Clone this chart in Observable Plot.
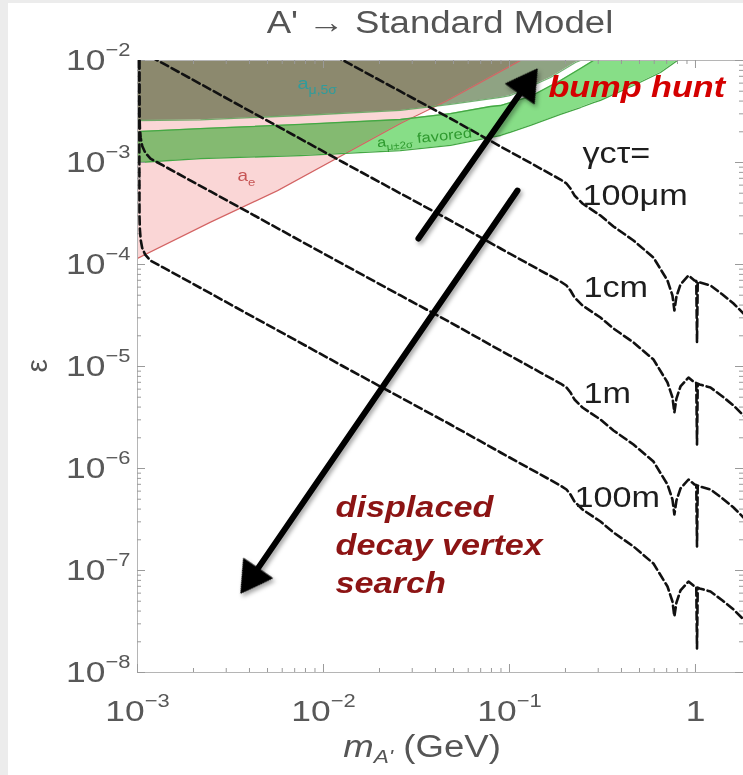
<!DOCTYPE html>
<html>
<head>
<meta charset="utf-8">
<script src="https://cdn.jsdelivr.net/npm/d3@7"></script>
<script src="https://cdn.jsdelivr.net/npm/@observablehq/plot@0.6"></script>
<style>
  html, body { margin: 0; padding: 0; width: 743px; height: 775px; overflow: hidden; background: #ececec;
               font-family: "Liberation Sans", Arial, sans-serif; }
  #sheet { position: absolute; left: 8px; top: 3px; width: 735px; height: 772px; background: #fff; overflow: hidden; }
  #title { position: absolute; left: 129px; top: 0; width: 606px; height: 40px; line-height: 40px;
           text-align: center; font-size: 31px; color: #555; transform: scaleX(1.18); white-space: nowrap; }
  #chart { position: absolute; left: 0; top: 47px; background: #fff; }
  #chart svg { display: block; overflow: visible; background: #fff; }
  #xlabel { position: absolute; left: 214px; top: 724px; width: 400px; height: 40px; line-height: 40px;
            text-align: center; font-size: 31px; color: #555; transform: scaleX(1.18); white-space: nowrap; }
  #xlabel sub { font-size: 0.62em; vertical-align: -0.3em; line-height: 0; }
  #chart g[aria-label="link"], #chart g[aria-label="dot"] { filter: drop-shadow(2px 3px 2px rgba(0,0,0,0.35)); }
  #chart g[aria-label="area"] { mix-blend-mode: multiply; }
</style>
</head>
<body>
<div id="sheet">
  <div id="title">A' → Standard Model</div>
  <div id="chart"></div>
  <div id="xlabel"><i>m</i><sub><i>A'</i></sub> (GeV)</div>
</div>
<script>
// ---- axis extents and tick labels ----
const massDomain = [1e-3, 1.812];
const epsDomain = [1e-8, 1e-2];
const topEps = epsDomain[1];
const xMajorTicks = [1e-3, 1e-2, 1e-1, 1];
const xTickLabels = ["10^{−3}", "10^{−2}", "10^{−1}", "1"];
const yMajorTicks = [1e-8, 1e-7, 1e-6, 1e-5, 1e-4, 1e-3, 1e-2];
const yTickLabels = ["10^{−8}", "10^{−7}", "10^{−6}", "10^{−5}", "10^{−4}", "10^{−3}", "10^{−2}"];

// ---- a_e exclusion (lower boundary, region extends to the top) ----
const aeMass = [0.001, 0.00247, 0.00566, 0.0259, 0.0464, 0.1146];
const aeEps  = [1.15e-4, 2.6e-4, 5.3e-4, 2.41e-3, 4.05e-3, 1e-2];

// ---- a_mu 5 sigma exclusion (lower boundary) ----
const amu5Mass = [0.001, 0.00218, 0.00752, 0.0259, 0.0482, 0.0895, 0.1013, 0.1661, 0.2263, 0.2408];
const amu5Eps  = [2.58e-3, 2.62e-3, 2.89e-3, 3.24e-3, 3.71e-3, 4.34e-3, 4.54e-3, 6.81e-3, 9.56e-3, 1e-2];

// ---- a_mu +-2 sigma favoured band ----
const favMass  = [0.001, 0.00218, 0.00752, 0.0259, 0.0482, 0.079, 0.0895, 0.1297, 0.188, 0.2408, 0.2829, 0.3084, 0.4642, 0.6482, 0.800];
const favUpper = [2.01e-3, 2.15e-3, 2.36e-3, 2.64e-3, 3.02e-3, 3.54e-3, 3.62e-3, 4.44e-3, 6.37e-3, 8.35e-3, 1e-2, 1e-2, 1e-2, 1e-2, 1e-2];
const favLower = [1.0e-3, 1.09e-3, 1.17e-3, 1.31e-3, 1.47e-3, 1.76e-3, 1.84e-3, 2.31e-3, 2.96e-3, 3.46e-3, 3.87e-3, 4.06e-3, 5.69e-3, 7.63e-3, 1e-2];

// ---- constant decay-length contours (gamma c tau) ----
const shapeMass = [0.01281, 0.02594, 0.04817, 0.0895, 0.1468, 0.188, 0.2025, 0.2128, 0.2236, 0.2469,
                   0.3084, 0.3623, 0.4642, 0.5943, 0.7071, 0.752, 0.77, 0.79, 0.8307, 0.9172,
                   0.9876, 1.01, 1.019, 1.028, 1.0507, 1.204, 1.397, 1.601, 1.812, 2.0];
const lowMass = [1.0222e-3, 1.0235e-3, 1.025e-3, 1.03e-3, 1.04e-3, 1.06e-3, 1.1e-3, 1.175e-3, 1.38e-3, 2.47e-3];

const eps100um = [1.28e-2,
  1.0e-2, 4.97e-3, 2.70e-3, 1.435e-3, 8.73e-4, 6.81e-4, 6.22e-4, 5.56e-4, 4.75e-4, 3.96e-4,
  3.02e-4, 2.36e-4, 1.72e-4, 1.17e-4, 6.97e-5, 4.97e-5, 3.54e-5, 4.85e-5, 6.37e-5, 7.8e-5,
  6.97e-5, 6.9e-5, 1.72e-5, 6.8e-5, 6.67e-5, 6.23e-5, 5.08e-5, 4.15e-5, 3.31e-5, 2.85e-5];
const mass100um = [0.0100, ...shapeMass];

const eps1cm = [1.09e-2, 9.3e-3, 5.2e-3,
  1.0e-3, 4.97e-4, 2.70e-4, 1.435e-4, 8.73e-5, 6.81e-5, 6.22e-5, 5.56e-5, 4.75e-5, 3.96e-5,
  3.02e-5, 2.36e-5, 1.72e-5, 1.17e-5, 6.97e-6, 4.97e-6, 3.54e-6, 4.85e-6, 6.37e-6, 7.8e-6,
  6.97e-6, 6.9e-6, 1.72e-6, 6.8e-6, 6.67e-6, 6.23e-6, 5.08e-6, 4.15e-6, 3.31e-6, 2.85e-6];
const mass1cm = [1.175e-3, 1.38e-3, 2.47e-3, ...shapeMass];

const eps1m = [1e-2, 6.0e-3, 3.0e-3, 2.2e-3, 1.75e-3, 1.45e-3, 1.25e-3, 1.09e-3, 9.3e-4, 5.2e-4,
  1.0e-4, 4.97e-5, 2.70e-5, 1.435e-5, 8.73e-6, 6.81e-6, 6.22e-6, 5.56e-6, 4.75e-6, 3.96e-6,
  3.02e-6, 2.36e-6, 1.72e-6, 1.17e-6, 6.97e-7, 4.97e-7, 3.54e-7, 4.85e-7, 6.37e-7, 7.8e-7,
  6.97e-7, 6.9e-7, 1.72e-7, 6.8e-7, 6.67e-7, 6.23e-7, 5.08e-7, 4.15e-7, 3.31e-7, 2.85e-7];
const mass1m = [...lowMass, ...shapeMass];

const eps100m = [1e-2, 1e-3, 3.0e-4, 2.2e-4, 1.75e-4, 1.45e-4, 1.25e-4, 1.09e-4, 9.3e-5, 5.2e-5,
  1.0e-5, 4.97e-6, 2.70e-6, 1.435e-6, 8.73e-7, 6.81e-7, 6.22e-7, 5.56e-7, 4.75e-7, 3.96e-7,
  3.02e-7, 2.36e-7, 1.72e-7, 1.17e-7, 6.97e-8, 4.97e-8, 3.54e-8, 4.85e-8, 6.37e-8, 7.8e-8,
  6.97e-8, 6.9e-8, 1.72e-8, 6.8e-8, 6.67e-8, 6.23e-8, 5.08e-8, 4.15e-8, 3.31e-8, 2.85e-8];
const mass100m = [...lowMass, ...shapeMass];

// ---- search-strategy arrows: tail and head centre (mass, eps), head direction ----
const arrowTailMass = [0.0324, 0.1104];
const arrowTailEps  = [1.80e-4, 5.31e-4];
const arrowHeadMass = [0.1222, 4.14e-3];
const arrowHeadEps  = [5.69e-3, 8.71e-8];
const arrowAngle    = [35, 214.5];

// ---- text annotations ----
const lifetimeLabels = ["γcτ=", "100μm", "1cm", "1m", "100m"];
const lifetimeMass   = [0.2469, 0.2469, 0.2499, 0.2499, 0.2235];
const lifetimeEps    = [9.78e-4, 3.79e-4, 4.75e-5, 4.34e-6, 4.15e-7];

// ---- build tables ----
const zip = (ms, es) => ms.map((m, i) => ({m, eps: es[i]}));
const ae = zip(aeMass, aeEps);
const amu5 = zip(amu5Mass, amu5Eps);
const fav = favMass.map((m, i) => ({m, lo: favLower[i], hi: favUpper[i]}));
const favUpperEdge = fav.slice(0, fav.findIndex(d => d.hi >= topEps) + 1);
const contours = [
  zip(mass100um, eps100um), zip(mass1cm, eps1cm), zip(mass1m, eps1m), zip(mass100m, eps100m)
];
const arrows = arrowTailMass.map((m, i) => ({
  m1: m, e1: arrowTailEps[i], m2: arrowHeadMass[i], e2: arrowHeadEps[i], angle: arrowAngle[i]
}));
const lifetimeText = lifetimeLabels.map((t, i) => ({t, m: lifetimeMass[i], eps: lifetimeEps[i]}));

const xLabelOf = new Map(xMajorTicks.map((d, i) => [d, xTickLabels[i]]));
const yLabelOf = new Map(yMajorTicks.map((d, i) => [d, yTickLabels[i]]));
const xMinor = d3.scaleLog().domain(massDomain).ticks().filter(d => !xMajorTicks.some(t => Math.abs(d / t - 1) < 1e-9));
const yMinor = d3.scaleLog().domain(epsDomain).ticks().filter(d => !yMajorTicks.some(t => Math.abs(d / t - 1) < 1e-9));

const W = 606, H = 612;
const tickColor = "#9a9a9a";
const dashed = {stroke: "#111", strokeWidth: 2.6, strokeDasharray: "8,4", clip: true};

const chart = Plot.plot({
  width: 735, height: 677,
  marginLeft: 129, marginRight: 0, marginTop: 10, marginBottom: 55,
  x: {type: "log", domain: massDomain},
  y: {type: "log", domain: epsDomain},
  style: {fontFamily: '"Liberation Sans", Arial, sans-serif', background: "#fff", overflow: "visible"},
  marks: [
    // shaded regions (multiplied together where they overlap)
    Plot.areaY(ae, {x: "m", y1: "eps", y2: () => topEps, fill: "#fad6d6", clip: true}),
    Plot.areaY(amu5, {x: "m", y1: "eps", y2: () => topEps, fill: "#8fa383", clip: true}),
    Plot.areaY(fav, {x: "m", y1: "lo", y2: "hi", fill: "#87de87", clip: true}),
    Plot.line(ae, {x: "m", y: "eps", stroke: "#d46464", strokeWidth: 1.3, clip: true}),
    Plot.line(amu5, {x: "m", y: "eps", stroke: "#4f9f4f", strokeWidth: 1.3, strokeOpacity: 0.8, clip: true}),
    Plot.line(favUpperEdge, {x: "m", y: "hi", stroke: "#44a844", strokeWidth: 1.3, clip: true}),
    Plot.line(fav, {x: "m", y: "lo", stroke: "#44a844", strokeWidth: 1.3, clip: true}),

    // frame and ticks
    Plot.frame({stroke: "#b5b5b5", strokeWidth: 1}),
    Plot.tickX(xMajorTicks, {x: d => d, insetTop: H - 8, stroke: tickColor}),
    Plot.tickX(xMinor, {x: d => d, insetTop: H - 4, stroke: tickColor}),
    Plot.tickX(xMajorTicks, {x: d => d, insetBottom: H - 8, stroke: tickColor}),
    Plot.tickX(xMinor, {x: d => d, insetBottom: H - 4, stroke: tickColor}),
    Plot.tickY(yMajorTicks, {y: d => d, insetRight: W - 8, stroke: tickColor}),
    Plot.tickY(yMinor, {y: d => d, insetRight: W - 4, stroke: tickColor}),
    Plot.tickY(yMajorTicks, {y: d => d, insetLeft: W - 8, stroke: tickColor}),
    Plot.tickY(yMinor, {y: d => d, insetLeft: W - 4, stroke: tickColor}),
    Plot.axisX(xMajorTicks, {anchor: "bottom", tickSize: 0, tickPadding: 27, tickFormat: d => xLabelOf.get(d),
      fontSize: 30, fill: "#585858", label: null}),
    Plot.axisY(yMajorTicks, {anchor: "left", tickSize: 0, tickPadding: 7, tickFormat: d => yLabelOf.get(d),
      fontSize: 30, fill: "#585858", label: null}),
    Plot.text(["ε"], {text: d => d, frameAnchor: "left", dx: -100, dy: 6, rotate: -90, fontSize: 30, fill: "#555"}),

    // decay-length contours
    ...contours.map(c => Plot.line(c, {x: "m", y: "eps", ...dashed})),

    // arrows
    Plot.link(arrows, {x1: "m1", y1: "e1", x2: "m2", y2: "e2", stroke: "#000", strokeWidth: 6, strokeLinecap: "round"}),
    Plot.dot(arrows, {x: "m2", y: "e2", rotate: "angle", symbol: "triangle", r: 13, fill: "#000", stroke: "#000", strokeWidth: 1}),

    // region labels
    Plot.text([{t: "a_{μ,5σ}", m: 7.24e-3, eps: 5.28e-3}], {x: "m", y: "eps", text: "t", textAnchor: "start",
      lineAnchor: "bottom", fontSize: 17, fill: "#2f9c9c"}),
    Plot.text([{t: "a_{e}", m: 3.45e-3, eps: 6.56e-4}], {x: "m", y: "eps", text: "t", textAnchor: "start",
      lineAnchor: "bottom", fontSize: 16, fill: "#c65454"}),
    Plot.text([{t: "a_{μ±2σ} favored", m: 0.0195, eps: 1.41e-3}], {x: "m", y: "eps", text: "t", textAnchor: "start",
      lineAnchor: "bottom", fontSize: 14, fill: "#2f9a2f", rotate: -6}),

    // search labels
    Plot.text([{t: "bump hunt", m: 0.162, eps: 4.43e-3}], {x: "m", y: "eps", text: "t", textAnchor: "start",
      lineAnchor: "bottom", fontSize: 29, fontWeight: "bold", fontStyle: "italic", fill: "#d40000"}),
    Plot.text([{t: "displaced\ndecay vertex\nsearch", m: 0.01161, eps: 6.08e-8}], {x: "m", y: "eps", text: "t",
      textAnchor: "start", lineAnchor: "bottom", lineHeight: 1.31, fontSize: 29, fontWeight: "bold",
      fontStyle: "italic", fill: "#8c1414"}),
    Plot.text(lifetimeText, {x: "m", y: "eps", text: "t", textAnchor: "start", lineAnchor: "bottom",
      fontSize: 29, fill: "#1e1e1e"})
  ]
});

document.getElementById("chart").append(chart);

// Overlapping regions multiply their colours
chart.querySelectorAll('g[aria-label="area"]').forEach(g => {
  g.style.mixBlendMode = "multiply";
  g.querySelectorAll("path").forEach(p => p.style.mixBlendMode = "multiply");
});

// Rich text: _{...} subscripts and ^{...} superscripts, plus the wide letterforms of the figure
const SVGNS = "http://www.w3.org/2000/svg";
const textScale = 1.18;
chart.querySelectorAll("text").forEach(t => {
  const raw = t.textContent;
  if (!t.querySelector("tspan") && /[_^]\{/.test(raw)) {
    t.textContent = "";
    const re = /([_^])\{([^}]*)\}|([^_^]+)/g;
    let m, shifted = null;
    while ((m = re.exec(raw))) {
      const ts = document.createElementNS(SVGNS, "tspan");
      if (m[3] !== undefined) {
        ts.textContent = m[3];
        if (shifted === "_") ts.setAttribute("dy", "-0.28em");
        if (shifted === "^") ts.setAttribute("dy", "0.47em");
        shifted = null;
      } else {
        ts.textContent = m[2];
        ts.setAttribute("style", `font-size:${m[1] === "^" ? 62 : 70}%`);
        ts.setAttribute("dy", m[1] === "^" ? "-0.76em" : "0.4em");
        shifted = m[1];
      }
      t.appendChild(ts);
    }
  }
  if (raw === "ε") return;
  const tr = t.getAttribute("transform");
  if (tr) t.setAttribute("transform", `${tr} scale(${textScale},1)`);
  else {
    const x = parseFloat(t.getAttribute("x")) || 0;
    t.setAttribute("transform", `translate(${x},0) scale(${textScale},1) translate(${-x},0)`);
  }
});
</script>
</body>
</html>
